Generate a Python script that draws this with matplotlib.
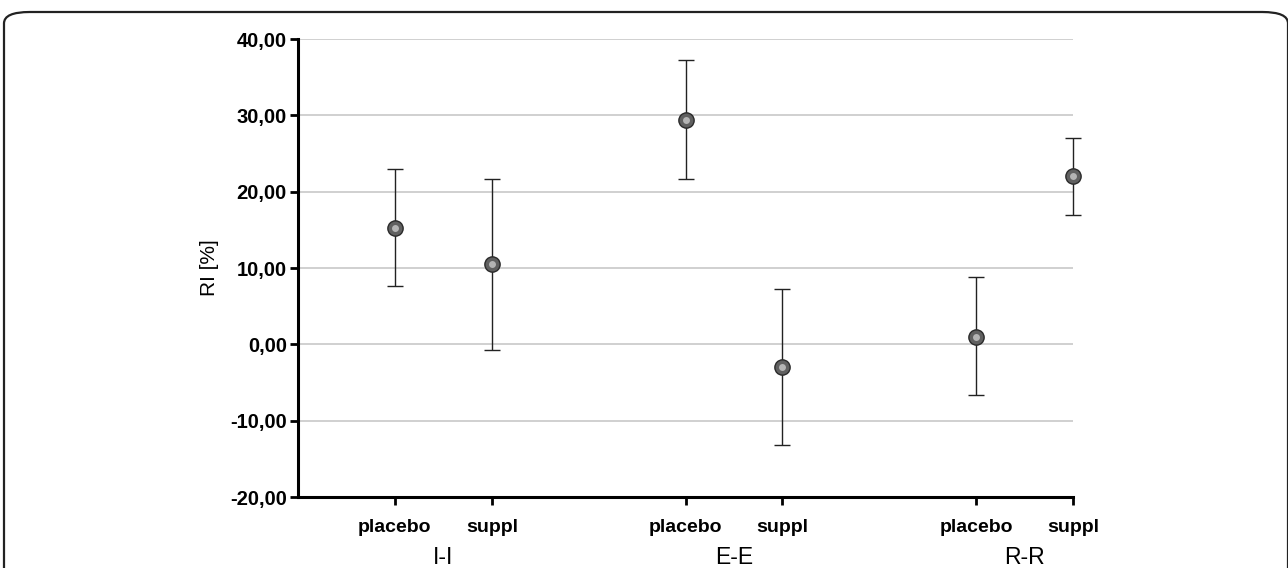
import numpy as np
import matplotlib
matplotlib.use('Agg')
import matplotlib.pyplot as plt
from matplotlib.patches import FancyBboxPatch
from matplotlib.transforms import blended_transform_factory

groups = ['I-I', 'E-E', 'R-R']
conditions = ['placebo', 'suppl', 'placebo', 'suppl', 'placebo', 'suppl']
positions = [1, 2, 4, 5, 7, 8]
means = [15.3, 10.5, 29.4, -3.0, 1.0, 22.1]
lower = [7.6, -0.7, 21.6, -13.2, -6.6, 17.0]
upper = [23.0, 21.6, 37.3, 7.2, 8.8, 27.0]
yticks = [-20, -10, 0, 10, 20, 30, 40]

plt.rcParams['font.family'] = ['Liberation Sans', 'DejaVu Sans']

fig = plt.figure(figsize=(12.88, 5.68), dpi=100)
ax = fig.add_axes([0.2314, 0.125, 0.6017, 0.8063])

# rounded frame around the whole figure
frame = FancyBboxPatch((4 / 1288, -0.2), (1284 / 1288), 1.2 - 12 / 568,
                       boxstyle='round,pad=0,rounding_size=0.02',
                       transform=fig.transFigure, fill=False,
                       edgecolor='#222222', linewidth=1.6, clip_on=False)
fig.patches.append(frame)

m = np.array(means)
yerr = [m - np.array(lower), np.array(upper) - m]
eb = ax.errorbar(positions, means, yerr=yerr, fmt='none', ecolor='#222222',
                 elinewidth=1.0, capsize=6, capthick=1.0, zorder=3)
for art in eb.lines[1] + eb.lines[2]:
    art.set_clip_on(False)
# shaded grey "sphere" markers
ax.plot(positions, means, 'o', markersize=11, markerfacecolor='#606060',
        markeredgecolor='#2a2a2a', markeredgewidth=1.0, zorder=4, clip_on=False)
ax.plot(positions, means, 'o', markersize=5, markerfacecolor='#b4b4b4',
        markeredgecolor='none', zorder=5, clip_on=False)

ax.set_xlim(0, 8)
ax.set_ylim(-20, 40)
ax.set_yticks(yticks)
ax.set_yticklabels(['{:.2f}'.format(v).replace('.', ',') for v in yticks],
                   fontsize=14.5, fontweight='bold')
ax.set_xticks(positions)
ax.set_xticklabels(conditions, fontsize=14, fontweight='bold')
ax.yaxis.grid(True, color='#c8c8c8', linewidth=1.2)
ax.set_axisbelow(True)

for s in ['top', 'right']:
    ax.spines[s].set_visible(False)
for s in ['left', 'bottom']:
    ax.spines[s].set_linewidth(2.2)
ax.tick_params(axis='both', direction='out', length=6, width=2)
ax.tick_params(axis='x', pad=10)
ax.tick_params(axis='y', pad=2)

ax.set_ylabel('RI [%]', fontsize=15, labelpad=8)

trans = blended_transform_factory(ax.transData, fig.transFigure)
for i, g in enumerate(groups):
    ax.text(positions[2 * i] + 0.5, 1 - 557 / 568, g, transform=trans,
            ha='center', va='center', fontsize=16.5)

fig.savefig('out.png', dpi=100)
